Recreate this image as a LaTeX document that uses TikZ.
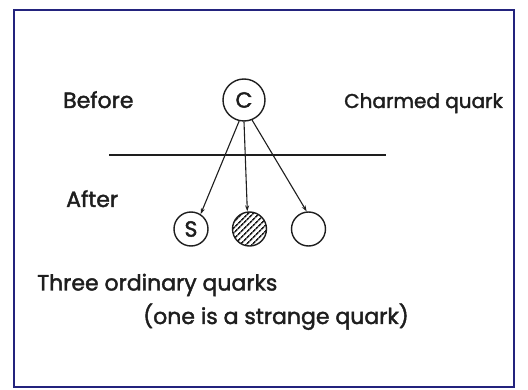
\documentclass[tikz,border=0pt]{standalone}
\usepackage{fontspec}
\newfontfamily\qf{Poppins}[FakeBold=1.8]
\usetikzlibrary{arrows.meta,patterns.meta}
\definecolor{framebl}{RGB}{35,35,125}
\definecolor{ink}{RGB}{30,30,30}
\begin{document}
\begin{tikzpicture}[x=1pt,y=-1pt,
  lbl/.style={font=\qf\fontsize{22}{24}\selectfont, text=ink, inner sep=0pt},
  quark/.style={circle, draw=ink, line width=1.4pt, inner sep=0pt, text=ink, font=\qf\fontsize{22}{24}\selectfont},
  bigq/.style={quark, minimum size=42pt},
  smallq/.style={quark, minimum size=34pt},
  link/.style={draw=ink, line width=1.1pt, -{Stealth[length=6pt,width=4pt]}}]
\useasboundingbox (0,0) rectangle (528,390);
\fill[white] (0,0) rectangle (528,390);
\draw[framebl, line width=2.2pt] (14,10) rectangle (514,387);
\node[bigq] (c) at (244,100) {C};
\node[lbl, anchor=base west] (before) at (63,108) {Before};
\node[lbl, anchor=base west, font=\qf\fontsize{20}{22}\selectfont] (charm) at (344,108) {Charmed quark};
\coordinate (hl) at (109,155);
\coordinate (hr) at (386,155);
\draw[ink, line width=1.2pt] (hl) -- (hr);
\node[lbl, anchor=base west] (after) at (66,207) {After};
\node[smallq] (s) at (191,229) {S};
\node[smallq, pattern={Lines[angle=45,distance=4pt,line width=1.6pt]}, pattern color=ink] (h) at (249.5,229) {};
\node[smallq] (e) at (308.5,229) {};
\draw[link] (c.-103) -- (s.57);
\draw[link] (c.-90) -- (h.97);
\draw[link] (c.-68) -- (e.96);
\node[lbl, anchor=base west] (three) at (37,290.5) {Three ordinary quarks};
\node[lbl, anchor=base west] (one) at (143,324) {(one is a strange quark)};
\end{tikzpicture}
\end{document}
